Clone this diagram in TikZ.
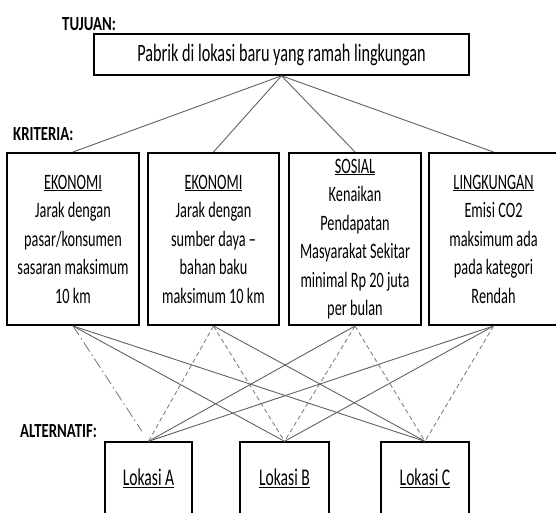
\documentclass[tikz,border=0pt]{standalone}
\usepackage{fontspec}
\setmainfont[FakeStretch=0.65]{Carlito}
\newfontfamily\labelfont[FakeStretch=0.74]{Carlito}

\begin{document}
\begin{tikzpicture}[x=1pt,y=-1pt,
		kriteria/.style={draw,line width=2pt,minimum height=172pt,inner sep=0pt,align=center,
			font=\fontsize{22}{28.5}\selectfont},
		alternatif/.style={draw,line width=1.4pt,minimum width=88pt,minimum height=73pt,inner sep=0pt,
			font=\fontsize{24}{28}\selectfont},
		judul/.style={anchor=base west,inner sep=0pt,font=\labelfont\bfseries\fontsize{20}{22}\selectfont},
		garis/.style={draw=garisgelap,line width=0.9pt},
		putus/.style={draw=garisgelap!80,line width=0.9pt,dash pattern=on 4.5pt off 3pt},
		putustitik/.style={draw=garisgelap!80,line width=0.9pt,dash pattern=on 11pt off 3.5pt on 1.5pt off 3.5pt}]
	\colorlet{garisgelap}{black!62}
	\useasboundingbox (0,0) rectangle (556,512);
	
	% tujuan
	\node[judul] (lblTujuan) at (62,30) {TUJUAN:};
	\node[draw,line width=1.6pt,minimum width=375pt,minimum height=41pt,inner sep=0pt,
		font=\fontsize{25}{28}\selectfont] (tujuan) at (281.5,54.5) {Pabrik di lokasi baru yang ramah lingkungan};
	
	% kriteria
	\node[judul] (lblKriteria) at (13,140) {KRITERIA:};
	\node[kriteria,minimum width=132pt] (ekonomiA) at (73,239)
	{\underline{EKONOMI}\\Jarak dengan\\pasar/konsumen\\sasaran maksimum\\10 km};
	\node[kriteria,minimum width=131pt] (ekonomiB) at (213.5,239)
	{\underline{EKONOMI}\\Jarak dengan\\sumber daya --\\bahan baku\\maksimum 10 km};
	\node[kriteria,minimum width=132pt] (sosial) at (355,239)
	{\underline{SOSIAL}\\Kenaikan\\Pendapatan\\Masyarakat Sekitar\\minimal Rp 20 juta\\per bulan};
	\node[kriteria,minimum width=129pt] (lingkungan) at (493.5,239)
	{\underline{LINGKUNGAN}\\Emisi CO2\\maksimum ada\\pada kategori\\Rendah};
	
	% alternatif
	\node[judul] (lblAlternatif) at (20,437) {ALTERNATIF:};
	\node[alternatif,minimum width=87pt] (lokasiA) at (148.5,478.5) {\underline{Lokasi A}};
	\node[alternatif,minimum width=89pt] (lokasiB) at (284.5,478.5) {\underline{Lokasi B}};
	\node[alternatif] (lokasiC) at (425,478.5) {\underline{Lokasi C}};
	
	\draw[garis] (tujuan.south) -- (ekonomiA.north);
	\draw[garis] (tujuan.south) -- (ekonomiB.north);
	\draw[garis] (tujuan.south) -- (sosial.north);
	\draw[garis] (tujuan.south) -- (lingkungan.north);
	
	\draw[putustitik,shorten >=12pt] (ekonomiA.south) -- (lokasiA.north);
	\draw[garis] (ekonomiA.south) -- (lokasiB.north);
	\draw[garis] (ekonomiA.south) -- (lokasiC.north);
	\draw[putus] (ekonomiB.south) -- (lokasiA.north);
	\draw[putus] (ekonomiB.south) -- (lokasiB.north);
	\draw[garis] (ekonomiB.south) -- (lokasiC.north);
	\draw[garis] (sosial.south) -- (lokasiA.north);
	\draw[putus] (sosial.south) -- (lokasiB.north);
	\draw[putus] (sosial.south) -- (lokasiC.north);
	\draw[garis] (lingkungan.south) -- (lokasiA.north);
	\draw[garis] (lingkungan.south) -- (lokasiB.north);
	\draw[putus] (lingkungan.south) -- (lokasiC.north);
\end{tikzpicture}
\end{document}
